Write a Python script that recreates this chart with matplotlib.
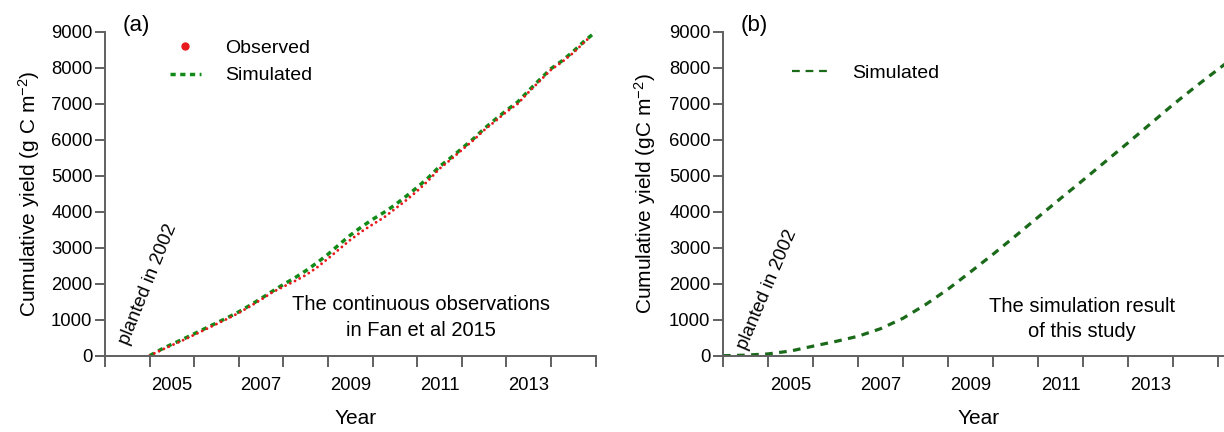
import matplotlib
matplotlib.use("Agg")
import matplotlib.pyplot as plt
from matplotlib.lines import Line2D

plt.rcParams['font.family'] = ['Liberation Sans', 'DejaVu Sans']
plt.rcParams['mathtext.fontset'] = 'custom'
plt.rcParams['mathtext.rm'] = 'Liberation Sans'
plt.rcParams['mathtext.it'] = 'Liberation Sans:italic'

# (a) eddy-covariance record vs. model, quarterly cumulative yield (g C m-2)
obs_years = [2005.0, 2005.25, 2005.5, 2005.75, 2006.0, 2006.25, 2006.5, 2006.75,
             2007.0, 2007.25, 2007.5, 2007.75, 2008.0, 2008.25, 2008.5, 2008.75,
             2009.0, 2009.25, 2009.5, 2009.75, 2010.0, 2010.25, 2010.5, 2010.75,
             2011.0, 2011.25, 2011.5, 2011.75, 2012.0, 2012.25, 2012.5, 2012.75,
             2013.0, 2013.25, 2013.5, 2013.75, 2014.0, 2014.25, 2014.5, 2014.75,
             2014.85]
obs_yield = [0, 150, 290, 430, 580, 730, 880, 1030,
             1190, 1370, 1560, 1760, 1920, 2070, 2240, 2450,
             2700, 2960, 3220, 3450, 3650, 3840, 4080, 4320,
             4580, 4870, 5200, 5450, 5720, 5980, 6270, 6520,
             6780, 7000, 7330, 7640, 7950, 8170, 8420, 8720,
             8830]

sim_a_years = [2005.0, 2005.25, 2005.5, 2005.75, 2006.0, 2006.25, 2006.5, 2006.75,
               2007.0, 2007.25, 2007.5, 2007.75, 2008.0, 2008.25, 2008.5, 2008.75,
               2009.0, 2009.25, 2009.5, 2009.75, 2010.0, 2010.25, 2010.5, 2010.75,
               2011.0, 2011.25, 2011.5, 2011.75, 2012.0, 2012.25, 2012.5, 2012.75,
               2013.0, 2013.25, 2013.5, 2013.75, 2014.0, 2014.25, 2014.5, 2014.75,
               2015.0]
sim_a_yield = [0, 170, 320, 460, 610, 760, 910, 1060,
               1220, 1400, 1590, 1790, 1980, 2160, 2360, 2580,
               2820, 3090, 3350, 3580, 3790, 3980, 4190, 4430,
               4680, 4950, 5260, 5500, 5760, 6020, 6310, 6570,
               6820, 7050, 7370, 7680, 7980, 8200, 8460, 8750,
               9000]

# (b) this study's simulation, half-yearly
sim_b_years = [2004.0, 2004.5, 2005.0, 2005.5, 2006.0, 2006.5, 2007.0, 2007.5,
               2008.0, 2008.5, 2009.0, 2009.5, 2010.0, 2010.5, 2011.0, 2011.5,
               2012.0, 2012.5, 2013.0, 2013.5, 2014.0, 2014.5, 2015.0, 2015.2]
sim_b_yield = [0, 15, 50, 130, 265, 395, 540, 750,
               1040, 1420, 1850, 2330, 2820, 3330, 3850, 4370,
               4880, 5400, 5920, 6450, 6980, 7480, 7960, 8150]

year_labels = [2005, 2007, 2009, 2011, 2013]
year_ticks = list(range(2004, 2016))
yield_ticks = list(range(0, 9001, 1000))

red = '#e8191c'
green_a = '#128a18'
green_b = '#1a6a1a'
axis_grey = '#606060'

fig = plt.figure(figsize=(12.24, 4.32), dpi=100)
ax_a = fig.add_axes([105 / 1224, 76.3 / 432, 490.6 / 1224, 323.7 / 432])
ax_b = fig.add_axes([723 / 1224, 76.3 / 432, 501 / 1224, 323.7 / 432])


def style_axes(ax, x_right):
    ax.set_xlim(2004, x_right)
    ax.set_ylim(0, 9000)
    for side in ('top', 'right'):
        ax.spines[side].set_visible(False)
    for side in ('left', 'bottom'):
        ax.spines[side].set_color(axis_grey)
        ax.spines[side].set_linewidth(1.4)
    ax.set_yticks(yield_ticks)
    ax.set_xticks(year_ticks)
    ax.set_xticklabels([])
    # year labels sit between the year-boundary ticks
    ax.set_xticks([y + 0.5 for y in year_labels], minor=True)
    ax.set_xticklabels([str(y) for y in year_labels], minor=True)
    ax.tick_params(axis='x', which='major', direction='out', length=8,
                   width=1.4, color=axis_grey)
    ax.tick_params(axis='x', which='minor', length=0, pad=15, labelsize=13.3)
    ax.tick_params(axis='y', direction='out', length=7, width=1.4,
                   color=axis_grey, pad=2, labelsize=13.3)
    ax.set_xlabel('Year', fontsize=15)
    ax.xaxis.set_label_coords(0.51, -0.165)


# ---- panel (a)
style_axes(ax_a, 2015)
ax_a.plot(sim_a_years, sim_a_yield, color=green_a, lw=2.5,
          dashes=(1.5, 1.3), clip_on=False)
ax_a.plot(obs_years, obs_yield, color=red, lw=2.1,
          dashes=(0.01, 1.8), dash_capstyle='round', clip_on=False)
ax_a.set_ylabel('Cumulative yield (g C m$^{-2}$)', fontsize=15)
ax_a.yaxis.set_label_coords(-0.128, 0.5)
ax_a.text(0.035, 1.02, '(a)', transform=ax_a.transAxes, fontsize=16,
          ha='left', va='center')
ax_a.text(0.645, 0.118, 'The continuous observations\nin Fan et al 2015',
          transform=ax_a.transAxes, fontsize=14.5, ha='center', va='center',
          multialignment='center', linespacing=1.45)
ax_a.text(0.089, 0.22, 'planted in 2002', transform=ax_a.transAxes,
          fontsize=13.5, rotation=68, ha='center', va='center',
          rotation_mode='anchor')

handles_a = [Line2D([], [], color=red, marker='o', ls='', ms=5),
             Line2D([], [], color=green_a, lw=2.5, dashes=(1.5, 1.3))]
ax_a.legend(handles_a, ['Observed', 'Simulated'], loc='upper left',
            bbox_to_anchor=(0.132, 0.977), frameon=False, fontsize=14,
            handlelength=1.6, handletextpad=1.25, borderpad=0,
            borderaxespad=0, labelspacing=0.5)

# ---- panel (b)
style_axes(ax_b, 2004 + 501 / 45)
ax_b.plot(sim_b_years, sim_b_yield, color=green_b, lw=2.3, dashes=(2.4, 2.0))
ax_b.set_ylabel('Cumulative yield (gC m$^{-2}$)', fontsize=15)
ax_b.yaxis.set_label_coords(-0.13, 0.5)
ax_b.text(0.035, 1.02, '(b)', transform=ax_b.transAxes, fontsize=16,
          ha='left', va='center')
ax_b.text(0.717, 0.113, 'The simulation result\nof this study',
          transform=ax_b.transAxes, fontsize=14.5, ha='center', va='center',
          multialignment='center', linespacing=1.45)
ax_b.text(0.089, 0.205, 'planted in 2002', transform=ax_b.transAxes,
          fontsize=13.5, rotation=67, ha='center', va='center',
          rotation_mode='anchor')

handles_b = [Line2D([], [], color=green_b, lw=1.6, dashes=(3.5, 2.6))]
ax_b.legend(handles_b, ['Simulated'], loc='upper left',
            bbox_to_anchor=(0.138, 0.899), frameon=False, fontsize=14,
            handlelength=1.8, handletextpad=1.3, borderpad=0,
            borderaxespad=0)

fig.savefig('out.png', dpi=100)
